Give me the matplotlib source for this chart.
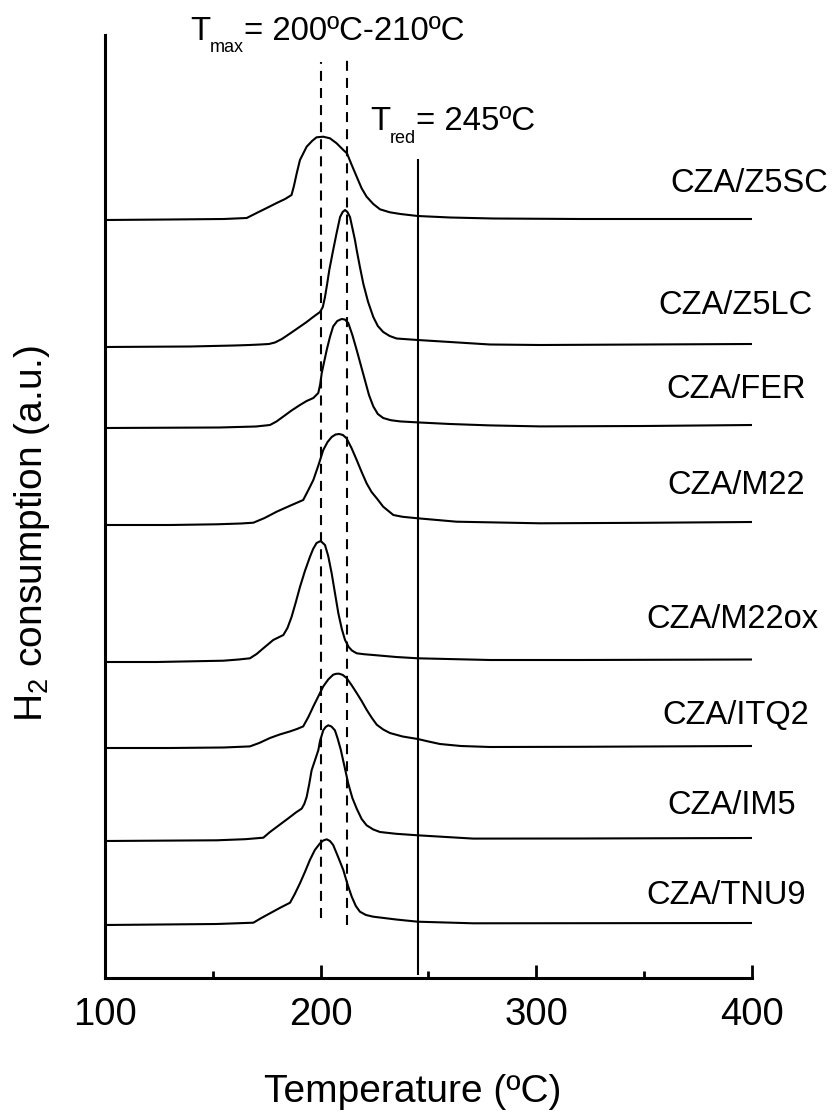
import matplotlib
matplotlib.use("Agg")
import matplotlib.pyplot as plt

plt.rcParams['font.family'] = ['Liberation Sans', 'DejaVu Sans']
plt.rcParams['mathtext.fontset'] = 'custom'
plt.rcParams['mathtext.rm'] = 'Liberation Sans'
plt.rcParams['mathtext.default'] = 'regular'

# ---- data (temperature in ºC, H2 signal above each baseline, a.u.) ----
samples = ["CZA/Z5SC", "CZA/Z5LC", "CZA/FER", "CZA/M22",
           "CZA/M22ox", "CZA/ITQ2", "CZA/IM5", "CZA/TNU9"]
offsets = [758, 631, 550, 453, 316, 230, 137, 53]

t_z5sc = [100, 130, 155, 165.7, 170.3, 175.0, 179.6, 183.5, 186.5, 187.6, 188.9, 190.4, 193.5,
          196.0, 198.1, 201.2, 204.3, 207.4, 210.5, 212.2, 214.4, 216.7, 219.0, 221.3, 224.4,
          227.5, 232.1, 237, 245, 260, 280, 320, 400]
h_z5sc = [0, 0.5, 1, 2, 7, 12, 17, 21, 25, 34, 46.7, 60, 73.3, 79, 82.7, 83.3, 81.7, 76.7, 70,
          66.7, 55, 43.3, 31.7, 23.3, 16, 10.7, 7.7, 6, 4, 2.5, 1.5, 1, 1]

t_z5lc = [100, 139.4, 160, 167, 172, 176, 178.8, 182, 185.8, 189.5, 193.5, 196.5, 199.7, 201,
          202, 203, 204, 205.8, 207.4, 209, 210.2, 211.3, 212.4, 213.6, 215.9, 216.7, 218.2,
          219.8, 222, 224.4, 226.5, 229, 232, 235.2, 245, 260, 278.5, 301.7, 350, 400]
h_z5lc = [0, 0.5, 1.5, 2, 2.5, 3, 4.5, 8, 13.5, 19, 25, 30, 35, 40, 50, 63, 77, 97, 114, 130,
          135, 137, 135, 130, 107, 97, 80, 63, 45, 30, 21, 15, 11, 8.5, 7, 5, 2.5, 2, 2.5, 3]

t_fer = [100, 153, 170, 176.5, 179.5, 182.7, 186.5, 190.4, 193.5, 196.6, 198.9, 199.8, 200.5,
         201.7, 202.8, 204.3, 205.8, 207.7, 209.7, 211.2, 212.8, 214.7, 216.7, 218.6, 220.5,
         222.4, 224.4, 226.5, 229, 232.5, 236.8, 245, 260, 278.5, 301.7, 350, 400]
h_fer = [0, 0.5, 1.5, 3, 6.5, 11.5, 17.5, 23, 27, 30, 35, 44, 55, 67, 78, 91, 101.6, 107, 109,
         108.5, 105, 93, 78, 63, 48, 33, 21.6, 14, 10, 7.8, 6.6, 5.6, 4, 2.6, 1.6, 2, 3]

t_m22 = [100, 130, 151.8, 163, 168.8, 174, 179.6, 185.5, 191.9, 194.3, 196.6, 199, 201.2, 203.2,
         205.1, 206.9, 208.6, 210.3, 212, 214.3, 216.7, 219, 221.3, 223.6, 226, 229, 233.7, 238,
         245, 263, 301.7, 350, 400]
h_m22 = [0, 0, 0.7, 1.5, 2.3, 7, 13.3, 19, 25, 35, 45, 60, 75, 83, 88, 90.5, 91, 90, 86.7, 77,
         65, 53, 41.7, 33, 26.7, 18.3, 10, 8.2, 6.7, 3.3, 1.7, 2.2, 3]

t_m22ox = [100, 124, 154.9, 162, 167.2, 170.3, 173.4, 178, 182.7, 184.6, 186.5, 188.5, 190.4,
           192.7, 195, 196.5, 198.1, 200, 202, 203.5, 205.1, 206.7, 208.2, 209.8, 211.3, 213,
           214.5, 216.7, 220, 224.4, 235, 245, 278.5, 320, 400]
h_m22ox = [0, 0, 1.3, 2.5, 3.7, 8, 13.7, 22, 27, 34, 45, 60, 75, 91, 105, 113, 119, 121, 117,
           106, 88.7, 68, 48.7, 33, 22, 15, 11.5, 8.7, 7.8, 7, 5, 3.7, 2, 2, 2.5]

t_itq2 = [100, 130, 155, 167.2, 171.5, 176.5, 181, 185.8, 189, 191.9, 194.3, 196.6, 199, 201.2,
          203.5, 205.8, 207.2, 208.6, 210.3, 212, 214.3, 216.7, 219, 221.3, 223.6, 226, 229,
          232.1, 238, 245, 250, 255.3, 265, 278.5, 320, 400]
h_itq2 = [0, 0, 0.5, 1.6, 5, 10, 13.5, 16.6, 19, 21.6, 31, 41.6, 52, 61.6, 68.5, 73.3, 74.2,
          74.3, 73, 70, 63, 55, 47, 38.3, 30.5, 23.3, 18.5, 15, 11.5, 9, 6.5, 4, 2, 1, 1.2, 2]

t_im5 = [100, 151.8, 165, 173.4, 176.5, 179.6, 182.7, 185.8, 188.5, 191.2, 192.4, 193.5, 194.7,
         195.8, 197.4, 198.9, 199.7, 201.2, 202.3, 203.5, 205, 206.6, 207.8, 209.3, 211, 212.8,
         214.7, 216.7, 219, 221.3, 224.4, 227.5, 235, 245, 270.7, 320, 400]
h_im5 = [0, 0.7, 1.8, 3.3, 9, 14, 19, 24, 28.5, 32.4, 37, 44, 57, 70.7, 81, 90.7, 100, 110.7,
         114, 115.7, 114.5, 110.7, 103, 91.5, 75, 57.4, 43, 32.4, 22, 15.7, 11.5, 9, 7.2, 5.7,
         2.4, 2.5, 3]

t_tnu9 = [100, 151.8, 168.8, 172.5, 176.5, 181, 185.8, 188, 190.4, 192.7, 195, 197.3, 199.7,
          201.2, 202.8, 204.3, 205.8, 208.1, 210.5, 212.4, 214.4, 216.3, 218.2, 221, 224.4, 235,
          245, 270.7, 320, 400]
h_tnu9 = [0, 1, 2.3, 7, 11.7, 17, 22.3, 31, 41.7, 53, 65, 75, 81.7, 84.5, 85.7, 84, 80, 68, 55,
          41, 28.3, 19, 13.3, 10, 8.3, 5.5, 3.3, 1.7, 1.8, 2]

temps = [t_z5sc, t_z5lc, t_fer, t_m22, t_m22ox, t_itq2, t_im5, t_tnu9]
heights = [h_z5sc, h_z5lc, h_fer, h_m22, h_m22ox, h_itq2, h_im5, h_tnu9]

t_max_lines = [200, 212]
t_red = 245

# ---- layout ----
W, H = 835, 1112
label_x = [398.6, 392.5, 392.5, 392.5, 390.7, 392.5, 390.7, 387.9]
label_dy = [37, 41, 38, 40, 42, 32, 36, 30]

fig = plt.figure(figsize=(W / 100, H / 100), dpi=100)
ax = fig.add_axes([105 / W, 1 - 978 / H, (752 - 105) / W, (978 - 35) / H])
ax.set_xlim(100, 400)
ax.set_ylim(0, 943)

for t, h, off in zip(temps, heights, offsets):
    ax.plot(t, [off + v for v in h], color='black', lw=1.5, solid_joinstyle='round')

for name, off, lx, dy in zip(samples, offsets, label_x, label_dy):
    ax.text(lx, off + dy, name, fontsize=23.5, ha='center', va='center', clip_on=False)

ax.vlines(t_max_lines[0], 60, 916, colors='black', lw=1.5, linestyles=(0, (4.8, 3.4)))
ax.vlines(t_max_lines[1], 53, 920, colors='black', lw=1.5, linestyles=(0, (4.8, 3.4)))
ax.vlines(t_red, 3, 819, colors='black', lw=1.5)

for s in ['top', 'right']:
    ax.spines[s].set_visible(False)
for s in ['left', 'bottom']:
    ax.spines[s].set_linewidth(2.2)

ax.set_yticks([])
ax.set_xticks([100, 200, 300, 400])
ax.set_xticks([150, 250, 350], minor=True)
ax.tick_params(axis='x', which='major', direction='in', length=9.5, width=2,
               labelsize=27.5, pad=13.5)
ax.tick_params(axis='x', which='minor', direction='in', length=5, width=2)

fig.text(413 / W, 1 - 1102 / H, 'Temperature (ºC)', fontsize=28,
         ha='center', va='baseline')
fig.text(42 / W, 1 - 534 / H, r'H$_2$ consumption (a.u.)', fontsize=28,
         rotation=90, ha='center', va='baseline', rotation_mode='anchor')


def sub_label(x0, y0, parts):
    # parts: (text, fontsize, extra drop in px); x0/y0 in image pixels from top-left
    r = fig.canvas.get_renderer()
    x = x0
    for s, size, dy in parts:
        txt = fig.text(x / W, 1 - (y0 + dy) / H, s, fontsize=size,
                       ha='left', va='baseline')
        x += txt.get_window_extent(r).width


sub_label(190, 39.5, [('T', 23.8, 0), ('max', 13, 12.5), ('= 200ºC-210ºC', 23.8, 0)])
sub_label(370, 130, [('T', 23.8, 0), ('red', 13, 13), ('= 245ºC', 23.8, 0)])

fig.savefig('out.png', dpi=100)
